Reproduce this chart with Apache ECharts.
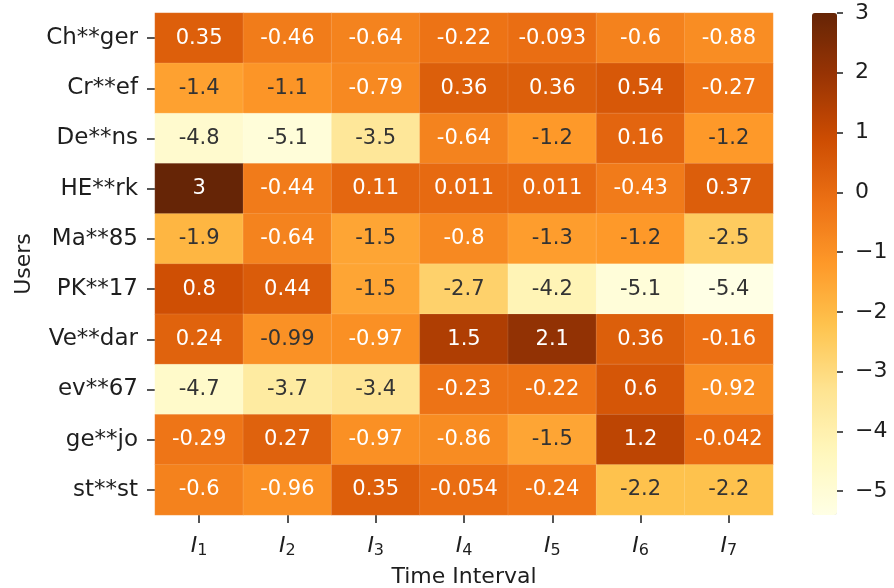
<!DOCTYPE html>
<html>
<head>
<meta charset="utf-8">
<script src="https://cdn.jsdelivr.net/npm/echarts@6/dist/echarts.min.js"></script>
<style>
  html, body { margin: 0; padding: 0; background: #fff; }
  #chart { width: 894px; height: 588px; }
</style>
</head>
<body>
<div id="chart"></div>
<script>
const users = ['Ch**ger', 'Cr**ef', 'De**ns', 'HE**rk', 'Ma**85', 'PK**17', 'Ve**dar', 'ev**67', 'ge**jo', 'st**st']
const intervals = ['1', '2', '3', '4', '5', '6', '7']

// one row per user, columns I1..I7
const values = [
  [0.35, -0.46, -0.64, -0.22, -0.093, -0.6, -0.88],
  [-1.4, -1.1, -0.79, 0.36, 0.36, 0.54, -0.27],
  [-4.8, -5.1, -3.5, -0.64, -1.2, 0.16, -1.2],
  [3, -0.44, 0.11, 0.011, 0.011, -0.43, 0.37],
  [-1.9, -0.64, -1.5, -0.8, -1.3, -1.2, -2.5],
  [0.8, 0.44, -1.5, -2.7, -4.2, -5.1, -5.4],
  [0.24, -0.99, -0.97, 1.5, 2.1, 0.36, -0.16],
  [-4.7, -3.7, -3.4, -0.23, -0.22, 0.6, -0.92],
  [-0.29, 0.27, -0.97, -0.86, -1.5, 1.2, -0.042],
  [-0.6, -0.96, 0.35, -0.054, -0.24, -2.2, -2.2]
]

const colorbarTicks = [-5, -4, -3, -2, -1, 0, 1, 2, 3]
const vmin = -5.4
const vmax = 3

// YlOrBr
const palette = ['#ffffe5', '#fff7bc', '#fee391', '#fec44f', '#fe9929', '#ec7014', '#cc4c02', '#993404', '#662506']

const font = 'DejaVu Sans'
const ink = '#1e1e1e'
const noLine = { show: true, onZero: false, lineStyle: { color: 'rgba(0,0,0,0)' } }
const tickStyle = { color: ink, width: 1.5 }

const cells = []
values.forEach((row, r) => {
  row.forEach((v, c) => {
    cells.push({
      value: [c, r, v],
      label: { color: v <= -0.98 ? '#333333' : '#ffffff' }
    })
  })
})

const chart = echarts.init(document.getElementById('chart'))

chart.setOption({
  animation: false,
  textStyle: { fontFamily: font },
  grid: [
    { left: 155, top: 13, width: 618, height: 502, outerBoundsMode: 'none' },
    { left: 812, top: 13, width: 25, height: 502, outerBoundsMode: 'none' }
  ],
  xAxis: [
    {
      type: 'category',
      gridIndex: 0,
      position: 'bottom',
      data: intervals,
      name: 'Time Interval',
      nameLocation: 'middle',
      nameGap: 51,
      nameTextStyle: { fontSize: 22, color: ink, fontFamily: font },
      axisLine: noLine,
      axisTick: { show: true, inside: false, alignWithLabel: true, length: 8, lineStyle: tickStyle },
      axisLabel: {
        margin: 20,
        formatter: v => '{i|I}{s|' + v + '}',
        rich: {
          i: { fontSize: 22, fontStyle: 'italic', color: ink, fontFamily: font, padding: [0, 0, 4, 0] },
          s: { fontSize: 16, color: ink, fontFamily: font, padding: [6, 0, 0, 0] }
        }
      },
      splitArea: { show: false }
    },
    { type: 'value', gridIndex: 1, show: false, min: 0, max: 1 }
  ],
  yAxis: [
    {
      type: 'category',
      gridIndex: 0,
      data: users,
      inverse: true,
      name: 'Users',
      nameLocation: 'middle',
      nameGap: 118,
      nameRotate: 90,
      nameTextStyle: { fontSize: 22, color: ink, fontFamily: font },
      axisLine: noLine,
      axisTick: { show: true, inside: false, alignWithLabel: true, length: 8, lineStyle: tickStyle },
      axisLabel: { fontSize: 23, color: ink, margin: 17 },
      splitArea: { show: false }
    },
    {
      type: 'value',
      gridIndex: 1,
      position: 'right',
      min: vmin,
      max: vmax,
      axisLine: noLine,
      splitLine: { show: false },
      axisTick: { show: true, inside: false, length: 6, customValues: colorbarTicks, lineStyle: tickStyle },
      axisLabel: {
        fontSize: 22,
        color: ink,
        margin: 18,
        customValues: colorbarTicks,
        formatter: v => (v < 0 ? '\u2212' + Math.abs(v) : String(v))
      }
    }
  ],
  visualMap: {
    type: 'continuous',
    min: vmin,
    max: vmax,
    seriesIndex: 0,
    calculable: false,
    orient: 'vertical',
    left: 812,
    top: 13,
    padding: 0,
    itemWidth: 25,
    itemHeight: 502,
    showLabel: false,
    inRange: { color: palette }
  },
  series: [
    {
      type: 'heatmap',
      xAxisIndex: 0,
      yAxisIndex: 0,
      data: cells,
      label: {
        show: true,
        fontSize: 21,
        fontFamily: font,
        formatter: p => String(p.value[2])
      },
      itemStyle: { borderColor: 'rgba(255,255,255,0.12)', borderWidth: 1 },
      emphasis: { disabled: true }
    }
  ]
})
</script>
</body>
</html>
